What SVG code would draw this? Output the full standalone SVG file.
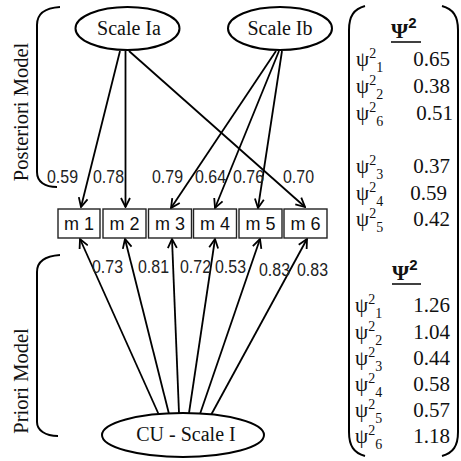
<svg xmlns="http://www.w3.org/2000/svg" width="461" height="461" viewBox="0 0 461 461">
  <style>
    .ell { fill: #fff; stroke: #000; stroke-width: 2; }
    .box { fill: #fff; stroke: #222; stroke-width: 1.4; }
    .serif { font-family: "Liberation Serif", "Times New Roman", serif; fill: #111; }
    .sans { font-family: "Liberation Sans", Arial, sans-serif; fill: #111; }
    .node-t { font-size: 20px; text-anchor: middle; }
    .box-t { font-size: 18px; text-anchor: middle; }
    .load { font-size: 18px; fill: #222; }
    .side { font-size: 20.5px; text-anchor: middle; }
    .edge { stroke: #000; stroke-width: 1.8; fill: none; marker-end: url(#arrow); }
    .brace { stroke: #000; stroke-width: 2; fill: none; }
    .val { font-size: 21px; text-anchor: end; }
    .psi { font-size: 21px; }
    .idx { font-size: 14px; }
    .hdr { font-size: 22px; font-weight: bold; }
    .hdr2 { font-size: 15px; font-weight: bold; }
  </style>
  <defs>
    <marker id="arrow" viewBox="0 0 11 11" refX="10" refY="5.5" markerWidth="11" markerHeight="11" markerUnits="userSpaceOnUse" orient="auto">
      <path d="M1,1 L10,5.5 L1,10" fill="none" stroke="#000" stroke-width="1.8"/>
    </marker>
  </defs>
  <rect width="461" height="461" fill="#fff"/>

  <!-- model brackets and side titles -->
  <g id="brackets">
    <path class="brace" d="M60,7 C45,8 37,13 37,25 L37,172 C37,182 45,187 57,187"/>
    <path class="brace" d="M60,255 C45,256 37,262 37,272 L37,422 C37,430 45,436 58,436"/>
    <text class="serif side" transform="translate(28,112) rotate(-90)">Posteriori Model</text>
    <text class="serif side" transform="translate(28,381) rotate(-90)">Priori Model</text>
  </g>

  <!-- connectors -->
  <g id="connectors">
    <line class="edge" x1="120" y1="51" x2="81" y2="207"/>
    <line class="edge" x1="125.5" y1="51" x2="125.5" y2="207"/>
    <line class="edge" x1="129" y1="51" x2="305" y2="207"/>
    <line class="edge" x1="276" y1="51" x2="171" y2="208"/>
    <line class="edge" x1="279" y1="51" x2="215" y2="208"/>
    <line class="edge" x1="282" y1="51" x2="258" y2="208"/>
    <line class="edge" x1="159" y1="415" x2="80" y2="239"/>
    <line class="edge" x1="169" y1="414" x2="125" y2="239"/>
    <line class="edge" x1="179" y1="413" x2="172" y2="239"/>
    <line class="edge" x1="189" y1="413" x2="215" y2="239"/>
    <line class="edge" x1="200" y1="414" x2="260" y2="239"/>
    <line class="edge" x1="211" y1="415" x2="307" y2="239"/>
  </g>

  <!-- factor loadings -->
  <g id="loadings" class="sans load">
    <text x="47" y="183" textLength="31" lengthAdjust="spacingAndGlyphs">0.59</text>
    <text x="93" y="183" textLength="31" lengthAdjust="spacingAndGlyphs">0.78</text>
    <text x="152" y="183" textLength="31" lengthAdjust="spacingAndGlyphs">0.79</text>
    <text x="195" y="183" textLength="31" lengthAdjust="spacingAndGlyphs">0.64</text>
    <text x="233" y="183" textLength="31" lengthAdjust="spacingAndGlyphs">0.76</text>
    <text x="283" y="183" textLength="31" lengthAdjust="spacingAndGlyphs">0.70</text>
    <text x="92" y="273" textLength="31" lengthAdjust="spacingAndGlyphs">0.73</text>
    <text x="138" y="273" textLength="31" lengthAdjust="spacingAndGlyphs">0.81</text>
    <text x="180" y="273" textLength="31" lengthAdjust="spacingAndGlyphs">0.72</text>
    <text x="215" y="273" textLength="31" lengthAdjust="spacingAndGlyphs">0.53</text>
    <text x="259" y="276" textLength="31" lengthAdjust="spacingAndGlyphs">0.83</text>
    <text x="297" y="276" textLength="31" lengthAdjust="spacingAndGlyphs">0.83</text>
  </g>

  <!-- latent factors -->
  <g id="scale-ia">
    <ellipse class="ell" cx="127.5" cy="28.5" rx="52" ry="21.5"/>
    <text class="serif node-t" x="129" y="35">Scale Ia</text>
  </g>
  <g id="scale-ib">
    <ellipse class="ell" cx="280" cy="28.5" rx="52" ry="21.5"/>
    <text class="serif node-t" x="280" y="35">Scale Ib</text>
  </g>
  <g id="cu-scale-i">
    <ellipse class="ell" cx="183" cy="435" rx="81" ry="22"/>
    <text class="serif node-t" x="186" y="441">CU - Scale I</text>
  </g>

  <!-- measured variables -->
  <g id="m1"><rect class="box" x="58" y="209" width="42" height="29"/><text class="sans box-t" x="79" y="230">m 1</text></g>
  <g id="m2"><rect class="box" x="103" y="209" width="43" height="29"/><text class="sans box-t" x="124.5" y="230">m 2</text></g>
  <g id="m3"><rect class="box" x="148.5" y="209" width="43" height="29"/><text class="sans box-t" x="170" y="230">m 3</text></g>
  <g id="m4"><rect class="box" x="193.5" y="209" width="43" height="29"/><text class="sans box-t" x="215" y="230">m 4</text></g>
  <g id="m5"><rect class="box" x="239" y="209" width="43" height="29"/><text class="sans box-t" x="260.5" y="230">m 5</text></g>
  <g id="m6"><rect class="box" x="284" y="209" width="43" height="29"/><text class="sans box-t" x="305.5" y="230">m 6</text></g>

  <!-- residual variance tables -->
  <g id="psi-table">
    <path class="brace" d="M365,6 C354,9 349,16 349,30 L349,432 C349,446 354,453 365,456"/>
    <path class="brace" d="M442,6 C453,9 458,16 458,30 L458,432 C458,446 453,453 442,456"/>

    <text class="serif hdr" x="391" y="38">Ψ<tspan class="sans hdr2" dy="-10">2</tspan></text>
    <line x1="391" y1="42" x2="421" y2="42" stroke="#000" stroke-width="1.5"/>

    <g class="serif">
      <text class="psi" x="356" y="66">ψ<tspan class="idx" dy="-8">2</tspan><tspan class="idx" dy="14">1</tspan></text>
      <text class="val" x="450" y="66">0.65</text>
      <text class="psi" x="356" y="93">ψ<tspan class="idx" dy="-8">2</tspan><tspan class="idx" dy="14">2</tspan></text>
      <text class="val" x="450" y="93">0.38</text>
      <text class="psi" x="356" y="120">ψ<tspan class="idx" dy="-8">2</tspan><tspan class="idx" dy="14">6</tspan></text>
      <text class="val" x="453" y="120">0.51</text>
      <text class="psi" x="356" y="173">ψ<tspan class="idx" dy="-8">2</tspan><tspan class="idx" dy="14">3</tspan></text>
      <text class="val" x="450" y="173">0.37</text>
      <text class="psi" x="356" y="200">ψ<tspan class="idx" dy="-8">2</tspan><tspan class="idx" dy="14">4</tspan></text>
      <text class="val" x="447" y="200">0.59</text>
      <text class="psi" x="356" y="226">ψ<tspan class="idx" dy="-8">2</tspan><tspan class="idx" dy="14">5</tspan></text>
      <text class="val" x="450" y="226">0.42</text>
    </g>

    <text class="serif hdr" x="392" y="280">Ψ<tspan class="sans hdr2" dy="-10">2</tspan></text>
    <line x1="392" y1="284" x2="421" y2="284" stroke="#000" stroke-width="1.5"/>

    <g class="serif">
      <text class="psi" x="355" y="312">ψ<tspan class="idx" dy="-8">2</tspan><tspan class="idx" dy="14">1</tspan></text>
      <text class="val" x="450" y="312">1.26</text>
      <text class="psi" x="355" y="339">ψ<tspan class="idx" dy="-8">2</tspan><tspan class="idx" dy="14">2</tspan></text>
      <text class="val" x="450" y="339">1.04</text>
      <text class="psi" x="355" y="365">ψ<tspan class="idx" dy="-8">2</tspan><tspan class="idx" dy="14">3</tspan></text>
      <text class="val" x="450" y="365">0.44</text>
      <text class="psi" x="355" y="391">ψ<tspan class="idx" dy="-8">2</tspan><tspan class="idx" dy="14">4</tspan></text>
      <text class="val" x="450" y="391">0.58</text>
      <text class="psi" x="355" y="417">ψ<tspan class="idx" dy="-8">2</tspan><tspan class="idx" dy="14">5</tspan></text>
      <text class="val" x="450" y="417">0.57</text>
      <text class="psi" x="355" y="443">ψ<tspan class="idx" dy="-8">2</tspan><tspan class="idx" dy="14">6</tspan></text>
      <text class="val" x="450" y="443">1.18</text>
    </g>
  </g>
</svg>
